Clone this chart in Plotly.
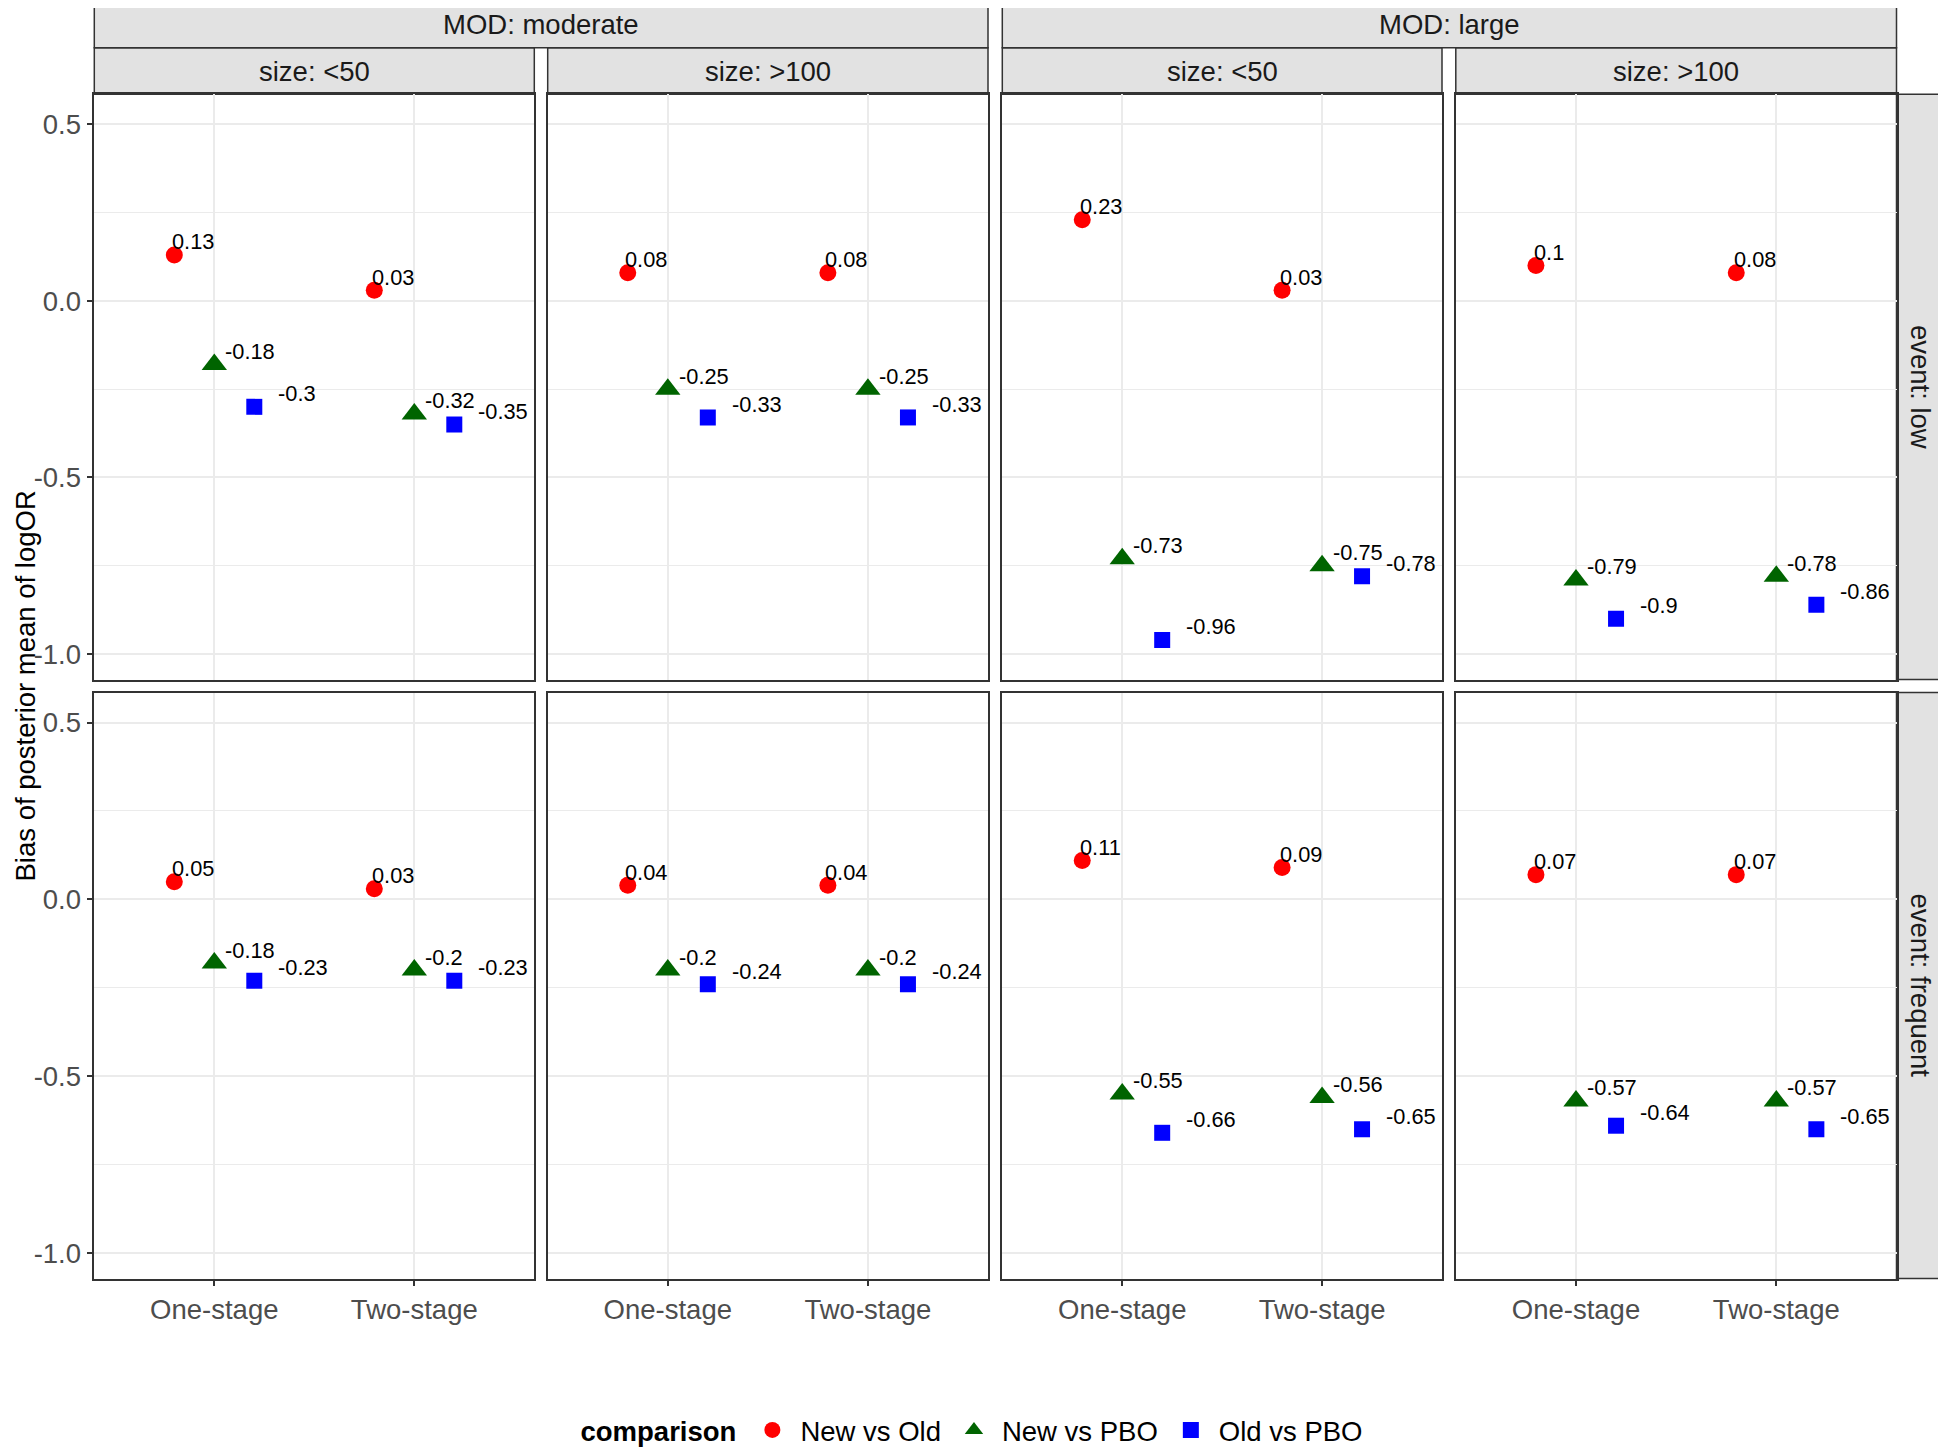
import plotly.graph_objects as go

# ---------------- data ----------------
events = ["low", "frequent"]
mods = ["moderate", "large"]
sizes = ["<50", ">100"]
methods = ["One-stage", "Two-stage"]
comparisons = ["New vs Old", "New vs PBO", "Old vs PBO"]

# order: event -> MOD -> size -> method
new_vs_old = [0.13, 0.03, 0.08, 0.08, 0.23, 0.03, 0.1, 0.08,
              0.05, 0.03, 0.04, 0.04, 0.11, 0.09, 0.07, 0.07]
new_vs_pbo = [-0.18, -0.32, -0.25, -0.25, -0.73, -0.75, -0.79, -0.78,
              -0.18, -0.2, -0.2, -0.2, -0.55, -0.56, -0.57, -0.57]
old_vs_pbo = [-0.3, -0.35, -0.33, -0.33, -0.96, -0.78, -0.9, -0.86,
              -0.23, -0.23, -0.24, -0.24, -0.66, -0.65, -0.64, -0.65]
series = [new_vs_old, new_vs_pbo, old_vs_pbo]

y_tickvals = [-1.0, -0.5, 0.0, 0.5]
y_ticktext = ["-1.0", "-0.5", "0.0", "0.5"]

# ---------------- style ----------------
W, H = 1946, 1447
OX, OY = 8, 8   # page body margin offset
colors = ["#FF0000", "#006400", "#0000FF"]
symbols = ["circle", "triangle-up", "square"]
msizes = [17, 22, 16]
point_off = [-0.2, 0.0, 0.2]
label_off = [-0.222, 0.045, 0.31]
FONT = "Arial, Liberation Sans, sans-serif"
FS = 27.5
LFS = 21.8
col_px = [(94.3, 534.3), (547.7, 988.0), (1002.3, 1442.0), (1455.8, 1896.5)]
row_px = [(94.3, 679.5), (692.5, 1278.5)]
strip_fill = "#E2E2E2"
border = "#333333"


def px(x):
    return (x - OX) / W


def py(y):
    return 1 - (y - OY) / H


fig = go.Figure()
annotations = []
shapes = []
layout = {}

for r in range(2):
    for c in range(4):
        n = r * 4 + c + 1
        xa = "x" if n == 1 else f"x{n}"
        ya = "y" if n == 1 else f"y{n}"
        x0, x1 = col_px[c]
        y0, y1 = row_px[r]
        layout["xaxis" if n == 1 else f"xaxis{n}"] = dict(
            domain=[px(x0), px(x1)], anchor=ya, range=[0.4, 2.6],
            tickvals=[1, 2], ticktext=methods,
            showticklabels=(r == 1), ticks="outside" if r == 1 else "",
            ticklen=6, tickwidth=1.5, tickcolor=border,
            tickfont=dict(family=FONT, size=FS, color="#4D4D4D"),
            showgrid=True, gridcolor="#EBEBEB", gridwidth=1.5,
            zeroline=False, showline=True, mirror=True,
            linecolor=border, linewidth=1.5, fixedrange=True,
        )
        layout["yaxis" if n == 1 else f"yaxis{n}"] = dict(
            domain=[py(y1), py(y0)], anchor=xa, range=[-1.072, 0.585],
            tickvals=y_tickvals, ticktext=y_ticktext,
            showticklabels=(c == 0), ticks="outside" if c == 0 else "",
            ticklen=6, tickwidth=1.5, tickcolor=border,
            tickfont=dict(family=FONT, size=FS, color="#4D4D4D"),
            showgrid=True, gridcolor="#EBEBEB", gridwidth=1.5,
            minor=dict(tickvals=[-0.75, -0.25, 0.25], showgrid=True,
                       gridcolor="#EBEBEB", gridwidth=0.8, ticks=""),
            zeroline=False, showline=True, mirror=True,
            linecolor=border, linewidth=1.5, fixedrange=True,
        )
        for k in range(3):
            base = r * 8 + c * 2
            vals = [series[k][base], series[k][base + 1]]
            fig.add_trace(go.Scatter(
                x=[1 + point_off[k], 2 + point_off[k]], y=vals,
                mode="markers", xaxis=xa, yaxis=ya,
                name=comparisons[k], legendgroup=comparisons[k],
                showlegend=(n == 1),
                marker=dict(color=colors[k], symbol=symbols[k], size=msizes[k],
                            line=dict(width=0)),
                hoverinfo="skip",
            ))
            for m in range(2):
                annotations.append(dict(
                    x=m + 1 + label_off[k], y=vals[m], xref=xa, yref=ya,
                    text=f"{vals[m]:g}", showarrow=False,
                    xanchor="left", yanchor="middle", yshift=13,
                    font=dict(family=FONT, size=LFS, color="black"),
                ))

# column strips (size)
for c in range(4):
    x0, x1 = col_px[c]
    shapes.append(dict(type="rect", xref="paper", yref="paper",
                       x0=px(x0), x1=px(x1), y0=py(94.3), y1=py(47.7),
                       fillcolor=strip_fill, line=dict(color=border, width=1.5),
                       layer="below"))
    annotations.append(dict(x=px((x0 + x1) / 2), y=py(71), xref="paper", yref="paper",
                            text=f"size: {sizes[c % 2]}", showarrow=False,
                            font=dict(family=FONT, size=FS, color="#1A1A1A"),
                            xanchor="center", yanchor="middle"))
# MOD strips
for i in range(2):
    x0 = col_px[2 * i][0]
    x1 = col_px[2 * i + 1][1]
    shapes.append(dict(type="rect", xref="paper", yref="paper",
                       x0=px(x0), x1=px(x1), y0=py(47.7), y1=py(2.5),
                       fillcolor=strip_fill, line=dict(color=border, width=1.5),
                       layer="below"))
    annotations.append(dict(x=px((x0 + x1) / 2), y=py(25), xref="paper", yref="paper",
                            text=f"MOD: {mods[i]}", showarrow=False,
                            font=dict(family=FONT, size=FS, color="#1A1A1A"),
                            xanchor="center", yanchor="middle"))
# row strips (event)
for r in range(2):
    y0, y1 = row_px[r]
    shapes.append(dict(type="rect", xref="paper", yref="paper",
                       x0=px(1896.5), x1=px(1943.3), y0=py(y1), y1=py(y0),
                       fillcolor=strip_fill, line=dict(color=border, width=1.5),
                       layer="below"))
    annotations.append(dict(x=px(1920), y=py((y0 + y1) / 2), xref="paper", yref="paper",
                            text=f"event: {events[r]}", showarrow=False, textangle=90,
                            font=dict(family=FONT, size=FS, color="#1A1A1A"),
                            xanchor="center", yanchor="middle"))

# y-axis title (kept fully inside the figure)
annotations.append(dict(x=0, y=py(686), xref="paper", yref="paper",
                        text="Bias of posterior mean of logOR", showarrow=False,
                        textangle=-90, xanchor="left", yanchor="middle", borderpad=0,
                        font=dict(family=FONT, size=FS, color="black")))

fig.update_layout(
    width=W, height=H,
    margin=dict(l=0, r=0, t=0, b=0),
    paper_bgcolor="white", plot_bgcolor="white",
    font=dict(family=FONT, size=FS, color="black"),
    annotations=annotations, shapes=shapes,
    legend=dict(orientation="h", x=px(973), xanchor="center", y=py(1430), yanchor="middle",
                title=dict(text="<b>comparison</b>", side="left",
                           font=dict(family=FONT, size=FS, color="black")),
                font=dict(family=FONT, size=FS, color="black"),
                bgcolor="rgba(0,0,0,0)", itemwidth=46, tracegroupgap=0),
    **layout,
)

fig.write_html("out.html")
